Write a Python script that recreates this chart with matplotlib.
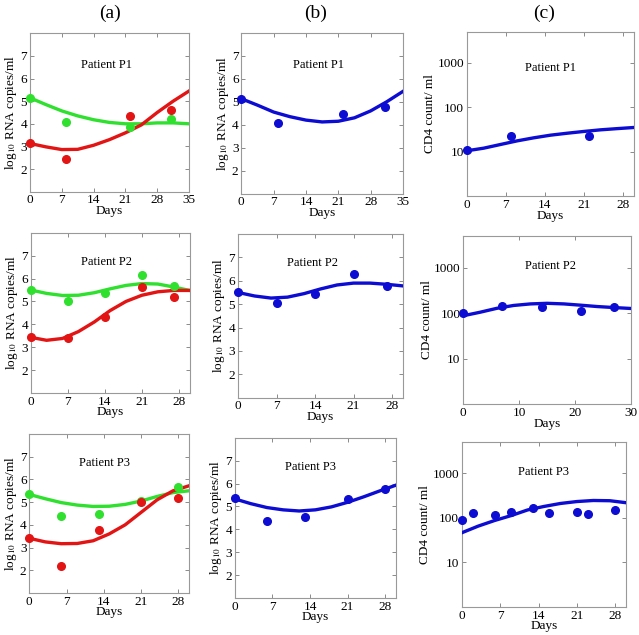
import matplotlib
matplotlib.use("Agg")
import matplotlib.pyplot as plt
from matplotlib.ticker import NullLocator

plt.rcParams['font.family'] = ['Liberation Serif', 'DejaVu Serif']
plt.rcParams['mathtext.fontset'] = 'stix'

GREEN = '#2fe02f'
RED = '#e21414'
BLUE = '#0c0cd2'

# ---- patient P1 ----
p1_days_a = [0, 8, 22, 31]
p1_green_pts = [5.16, 4.06, 3.87, 4.2]
p1_red_pts = [3.13, 2.43, 4.35, 4.63]
p1_curve_days = [0, 3.5, 7, 10.5, 14, 17.5, 21, 24.5, 28, 31.5, 35]
p1_green_curve = [5.15, 4.85, 4.57, 4.35, 4.18, 4.06, 4.0, 4.0, 4.04, 4.04, 4.0]
p1_red_curve = [3.13, 2.98, 2.86, 2.87, 3.05, 3.3, 3.6, 3.95, 4.5, 5.0, 5.45]
p1_blue_pts = [5.13, 4.06, 4.45, 4.78]
p1_blue_curve = [5.13, 4.85, 4.55, 4.35, 4.2, 4.12, 4.15, 4.3, 4.6, 5.0, 5.45]
p1_cd4_days = [0, 8, 22]
p1_cd4_pts = [10.8, 22, 22]
p1_cd4_curve_days = [0, 3, 6, 9, 12, 15, 18, 21, 24, 27, 30]
p1_cd4_curve = [10.5, 12, 14.5, 17.5, 20.5, 23.5, 26, 28.5, 31, 33, 35]

# ---- patient P2 ----
p2_days = [0, 7, 14, 21, 27]
p2_green_pts = [5.5, 5.02, 5.37, 6.14, 5.67]
p2_red_pts = [3.43, 3.42, 4.33, 5.62, 5.18]
p2_curve_days = [0, 3, 6, 9, 12, 15, 18, 21, 24, 27, 30]
p2_green_curve = [5.5, 5.35, 5.26, 5.27, 5.38, 5.55, 5.7, 5.78, 5.76, 5.63, 5.48]
p2_red_curve = [3.43, 3.3, 3.38, 3.68, 4.1, 4.6, 5.0, 5.27, 5.42, 5.48, 5.48]
p2_blue_pts = [5.53, 5.06, 5.43, 6.29, 5.79]
p2_blue_curve = [5.5, 5.35, 5.26, 5.3, 5.45, 5.65, 5.82, 5.9, 5.9, 5.85, 5.78]
p2_cd4_pts = [100, 145, 140, 112, 135]
p2_cd4_curve = [88, 105, 128, 148, 160, 165, 160, 150, 140, 133, 127]

# ---- patient P3 ----
p3_days_green = [0, 6, 13, 21, 28]
p3_green_pts = [5.34, 4.39, 4.46, 5.05, 5.65]
p3_days_red = [0, 6, 13, 21, 28]
p3_red_pts = [3.41, 2.19, 3.76, 5.02, 5.17]
p3_curve_days = [0, 3, 6, 9, 12, 15, 18, 21, 24, 27, 30]
p3_green_curve = [5.34, 5.15, 4.98, 4.87, 4.81, 4.82, 4.9, 5.05, 5.25, 5.42, 5.5]
p3_red_curve = [3.41, 3.25, 3.17, 3.18, 3.3, 3.6, 4.0, 4.55, 5.1, 5.5, 5.72]
p3_days_blue = [0, 6, 13, 21, 28]
p3_blue_pts = [5.35, 4.38, 4.55, 5.31, 5.76]
p3_blue_curve = [5.33, 5.12, 4.95, 4.85, 4.8, 4.85, 4.98, 5.18, 5.42, 5.68, 5.93]
p3_cd4_days = [0, 2, 6, 9, 13, 16, 21, 23, 28]
p3_cd4_pts = [87, 127, 115, 136, 168, 125, 134, 119, 146]
p3_cd4_curve = [46, 65, 87, 112, 150, 180, 210, 232, 245, 242, 218]

W, H = 639, 635
fig = plt.figure(figsize=(W / 100, H / 100), dpi=100)


def make_axes(left, right, top, bottom):
    return fig.add_axes([left / W, 1 - bottom / H, (right - left) / W, (bottom - top) / H])


def style(ax, xmax, xticks, log=False):
    ax.set_xlim(0, xmax)
    ax.set_xticks(xticks)
    if log:
        ax.set_yscale('log')
        ax.set_ylim(1, 5000)
        ax.set_yticks([10, 100, 1000])
        ax.set_yticklabels(['10', '100', '1000'])
        ax.yaxis.set_minor_locator(NullLocator())
        ax.set_ylabel('CD4 count/ ml', fontsize=9.5, labelpad=1)
    else:
        ax.set_ylim(1, 8)
        ax.set_yticks(range(2, 8))
        ax.set_ylabel('log$_{10}$ RNA copies/ml', fontsize=9.5, labelpad=1)
    ax.set_xlabel('Days', fontsize=9.5, labelpad=-1)
    ax.tick_params(direction='in', top=True, right=True, length=3, width=0.6,
                   color='#777777', labelsize=9.5, pad=2)
    for s in ax.spines.values():
        s.set_color('#999999')
        s.set_linewidth(0.8)


def dots(ax, x, y, c):
    ax.plot(x, y, 'o', color=c, markersize=5.5, clip_on=False, zorder=4)


def line(ax, x, y, c):
    ax.plot(x, y, '-', color=c, lw=2.4, zorder=3, solid_joinstyle='round')


def label(ax, txt, x=0.5, y=0.8):
    ax.text(x, y, txt, transform=ax.transAxes, ha='center', va='center', fontsize=9)


# row 1
ax = make_axes(30, 189, 33.4, 191.6)
line(ax, p1_curve_days, p1_green_curve, GREEN)
line(ax, p1_curve_days, p1_red_curve, RED)
dots(ax, p1_days_a, p1_green_pts, GREEN)
dots(ax, p1_days_a, p1_red_pts, RED)
style(ax, 35, range(0, 36, 7))
label(ax, 'Patient P1', 0.48)

ax = make_axes(241.3, 403, 32.7, 193.7)
line(ax, p1_curve_days, p1_blue_curve, BLUE)
dots(ax, p1_days_a, p1_blue_pts, BLUE)
style(ax, 35, range(0, 36, 7))
label(ax, 'Patient P1', 0.48)

ax = make_axes(467, 633.8, 31.6, 196.2)
line(ax, p1_cd4_curve_days, p1_cd4_curve, BLUE)
dots(ax, p1_cd4_days, p1_cd4_pts, BLUE)
style(ax, 30, range(0, 29, 7), log=True)
label(ax, 'Patient P1', 0.5, 0.78)

# row 2
ax = make_axes(30.7, 189.6, 232.8, 392.9)
line(ax, p2_curve_days, p2_green_curve, GREEN)
line(ax, p2_curve_days, p2_red_curve, RED)
dots(ax, p2_days, p2_green_pts, GREEN)
dots(ax, p2_days, p2_red_pts, RED)
style(ax, 30, range(0, 29, 7))
label(ax, 'Patient P2', 0.48, 0.82)

ax = make_axes(238, 403, 234, 397.7)
line(ax, p2_curve_days, p2_blue_curve, BLUE)
dots(ax, p2_days, p2_blue_pts, BLUE)
style(ax, 30, range(0, 29, 7))
label(ax, 'Patient P2', 0.45, 0.82)

ax = make_axes(463.3, 631, 235.9, 404.2)
line(ax, p2_curve_days, p2_cd4_curve, BLUE)
dots(ax, p2_days, p2_cd4_pts, BLUE)
style(ax, 30, [0, 10, 20, 30], log=True)
label(ax, 'Patient P2', 0.52, 0.82)

# row 3
ax = make_axes(29.3, 189, 434, 593)
line(ax, p3_curve_days, p3_green_curve, GREEN)
line(ax, p3_curve_days, p3_red_curve, RED)
dots(ax, p3_days_green, p3_green_pts, GREEN)
dots(ax, p3_days_red, p3_red_pts, RED)
style(ax, 30, range(0, 29, 7))
label(ax, 'Patient P3', 0.47, 0.82)

ax = make_axes(234.7, 396, 437.8, 597.9)
line(ax, p3_curve_days, p3_blue_curve, BLUE)
dots(ax, p3_days_blue, p3_blue_pts, BLUE)
style(ax, 30, range(0, 29, 7))
label(ax, 'Patient P3', 0.47, 0.82)

ax = make_axes(461.7, 626.3, 442.2, 606.8)
line(ax, p3_curve_days, p3_cd4_curve, BLUE)
dots(ax, p3_cd4_days, p3_cd4_pts, BLUE)
style(ax, 30, range(0, 29, 7), log=True)
label(ax, 'Patient P3', 0.5, 0.82)

# column headers
for x, t in [(110, '(a)'), (316, '(b)'), (544, '(c)')]:
    fig.text(x / W, 1 - 13 / H, t, ha='center', va='center', fontsize=14)

fig.savefig('out.png', dpi=100)
